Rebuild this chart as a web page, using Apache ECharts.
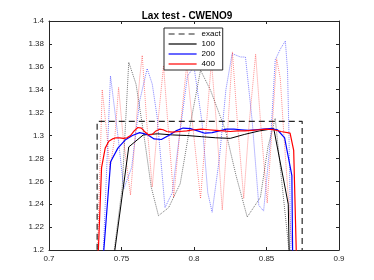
<!DOCTYPE html>
<html><head><meta charset="utf-8">
<script src="https://cdn.jsdelivr.net/npm/echarts@6/dist/echarts.min.js"></script>
<style>html,body{margin:0;padding:0;background:#fff}#c{width:374px;height:280px}</style>
</head><body><div id="c"></div>
<script>
// axis ticks
const xTicks = [0.7, 0.75, 0.8, 0.85, 0.9];
const yTicks = [1.2, 1.22, 1.24, 1.26, 1.28, 1.3, 1.32, 1.34, 1.36, 1.38, 1.4];

// exact solution (density plateau)
const exactX = [0.70, 0.7332, 0.7332, 0.8746, 0.8746, 0.90];
const exactY = [0.50, 0.50, 1.3124, 1.3124, 0.50, 0.50];

// N = 100 (solid black)
const n100X = [0.735, 0.745, 0.755, 0.765, 0.775, 0.785, 0.795, 0.805, 0.815, 0.825, 0.835, 0.845, 0.855, 0.865, 0.875];
const n100Y = [0.60, 1.196, 1.290, 1.3005, 1.3015, 1.3005, 1.300, 1.299, 1.298, 1.2975, 1.301, 1.304, 1.306, 1.240, 0.60];

// N = 200 (solid blue)
const n200X = [0.7325, 0.7375, 0.7425, 0.7475, 0.7525, 0.7575, 0.7625, 0.7675, 0.7725, 0.7775, 0.7825, 0.7875, 0.7925, 0.7975, 0.8025, 0.8075, 0.8125, 0.8175, 0.8225, 0.8275, 0.8325, 0.8375, 0.8425, 0.8475, 0.8525, 0.8575, 0.8625, 0.8675, 0.8725];
const n200Y = [0.60, 1.195, 1.277, 1.289, 1.296, 1.300, 1.3025, 1.301, 1.297, 1.2965, 1.300, 1.304, 1.3065, 1.306, 1.304, 1.302, 1.3025, 1.304, 1.3055, 1.3055, 1.305, 1.3045, 1.305, 1.3055, 1.306, 1.305, 1.298, 1.265, 0.60];

// N = 400 (solid red)
const n400X = [0.73125, 0.73375, 0.73625, 0.73875, 0.74125, 0.74375, 0.74625, 0.74875, 0.75125, 0.75375, 0.75625, 0.75875, 0.76125, 0.76375, 0.76625, 0.76875, 0.77125, 0.77375, 0.77625, 0.77875, 0.78125, 0.785, 0.79, 0.795, 0.80, 0.805, 0.81, 0.815, 0.82, 0.825, 0.83, 0.835, 0.84, 0.845, 0.85, 0.855, 0.86, 0.86625, 0.86875, 0.87125, 0.87375];
const n400Y = [0.60, 1.19, 1.272, 1.289, 1.295, 1.297, 1.298, 1.298, 1.2975, 1.298, 1.300, 1.304, 1.307, 1.3065, 1.303, 1.3005, 1.301, 1.304, 1.3055, 1.305, 1.3035, 1.303, 1.3035, 1.304, 1.305, 1.3055, 1.305, 1.3045, 1.304, 1.3035, 1.304, 1.304, 1.3045, 1.305, 1.3055, 1.305, 1.3035, 1.302, 1.287, 1.163, 0.60];

// oscillating companions (dotted, not in legend)
const d100X = [0.735, 0.744, 0.7505, 0.755, 0.760, 0.7655, 0.7705, 0.7755, 0.7825, 0.7905, 0.7975, 0.8045, 0.8114, 0.8183, 0.8217, 0.8290, 0.8367, 0.8458, 0.851, 0.856, 0.8605, 0.8655, 0.8665];
const d100Y = [0.60, 1.19, 1.255, 1.364, 1.345, 1.300, 1.255, 1.230, 1.237, 1.258, 1.310, 1.357, 1.3395, 1.316, 1.3045, 1.265, 1.2288, 1.246, 1.290, 1.315, 1.260, 1.200, 0.60];

const d200X = [0.733, 0.7375, 0.7424, 0.7475, 0.7516, 0.757, 0.7625, 0.7677, 0.7712, 0.7746, 0.780, 0.785, 0.790, 0.7955, 0.800, 0.8055, 0.8095, 0.8125, 0.8175, 0.822, 0.8263, 0.832, 0.8355, 0.8401, 0.8447, 0.848, 0.853, 0.856, 0.8597, 0.863, 0.8645, 0.8655, 0.8668, 0.867];
const d200Y = [0.60, 1.20, 1.352, 1.300, 1.2536, 1.272, 1.330, 1.3584, 1.345, 1.316, 1.237, 1.250, 1.300, 1.352, 1.360, 1.312, 1.250, 1.233, 1.280, 1.340, 1.3715, 1.3686, 1.3685, 1.313, 1.239, 1.234, 1.300, 1.366, 1.3758, 1.3826, 1.357, 1.300, 1.200, 0.60];

const d400X = [0.7315, 0.7335, 0.7367, 0.7400, 0.7420, 0.7455, 0.7480, 0.7510, 0.7562, 0.7595, 0.7625, 0.7643, 0.7675, 0.7712, 0.7750, 0.7790, 0.7820, 0.7860, 0.7900, 0.7950, 0.7990, 0.8045, 0.8080, 0.8120, 0.8155, 0.8195, 0.8230, 0.8265, 0.8300, 0.8343, 0.8380, 0.8425, 0.8460, 0.8505, 0.8535, 0.8570, 0.8595, 0.8620, 0.8665, 0.8680, 0.8690];
const d400Y = [0.60, 1.20, 1.340, 1.300, 1.270, 1.300, 1.342, 1.300, 1.248, 1.300, 1.350, 1.370, 1.310, 1.255, 1.310, 1.361, 1.310, 1.246, 1.300, 1.362, 1.310, 1.245, 1.300, 1.365, 1.310, 1.235, 1.300, 1.373, 1.310, 1.245, 1.310, 1.371, 1.310, 1.241, 1.300, 1.367, 1.350, 1.300, 1.220, 1.200, 0.60];

const pairs = (xs, ys) => xs.map((x, i) => [x, ys[i]]);

const axisColor = '#262626';
const font = 'Liberation Sans, Arial, sans-serif';
const baseX = {
  type: 'value', min: 0.7, max: 0.9, interval: 0.05,
  axisLine: { show: true, lineStyle: { color: axisColor, width: 1 } },
  axisTick: { show: true, inside: true, length: 3, lineStyle: { color: axisColor } },
  splitLine: { show: false }
};
const baseY = {
  type: 'value', min: 1.2, max: 1.4, interval: 0.02,
  axisLine: { show: true, lineStyle: { color: axisColor, width: 1 } },
  axisTick: { show: true, inside: true, length: 3, lineStyle: { color: axisColor } },
  splitLine: { show: false }
};

const chart = echarts.init(document.getElementById('c'), null, { renderer: 'canvas' });
chart.setOption({
  animation: false,
  backgroundColor: '#fff',
  title: {
    text: 'Lax test - CWENO9', left: 'center', top: 6,
    textStyle: { fontFamily: font, fontSize: 10, fontWeight: 'bold', color: '#000' }
  },
  grid: { left: 49, right: 35, top: 21, bottom: 30 },
  xAxis: [
    Object.assign({}, baseX, { position: 'bottom',
      axisLabel: { show: true, margin: 5, fontFamily: font, fontSize: 8, color: axisColor,
        formatter: v => xTicks.includes(+v.toFixed(2)) ? String(+v.toFixed(2)) : '' } }),
    Object.assign({}, baseX, { position: 'top', axisLabel: { show: false } })
  ],
  yAxis: [
    Object.assign({}, baseY, { position: 'left',
      axisLabel: { show: true, margin: 5, fontFamily: font, fontSize: 8, color: axisColor,
        formatter: v => yTicks.includes(+v.toFixed(2)) ? String(+v.toFixed(2)) : '' } }),
    Object.assign({}, baseY, { position: 'right', axisLabel: { show: false } })
  ],
  legend: {
    data: ['exact', '100', '200', '400'],
    orient: 'vertical', left: 164, top: 28,
    padding: [2, 2, 2, 4], itemGap: 2, itemWidth: 28, itemHeight: 9,
    backgroundColor: '#fff', borderColor: '#262626', borderWidth: 1, borderRadius: 0,
    itemStyle: { opacity: 0 },
    lineStyle: { width: 1.2 },
    textStyle: { fontFamily: font, fontSize: 8, color: '#000' }
  },
  series: [
    { name: 'd100', type: 'line', data: pairs(d100X, d100Y), symbol: 'none', z: 1,
      lineStyle: { color: 'rgba(0,0,0,0.55)', width: 1, type: 'dotted' } },
    { name: 'd200', type: 'line', data: pairs(d200X, d200Y), symbol: 'none', z: 1,
      lineStyle: { color: 'rgba(0,0,255,0.5)', width: 1, type: 'dotted' } },
    { name: 'd400', type: 'line', data: pairs(d400X, d400Y), symbol: 'none', z: 1,
      lineStyle: { color: 'rgba(255,0,0,0.45)', width: 1, type: 'dotted' } },
    { name: '100', type: 'line', data: pairs(n100X, n100Y), symbol: 'none', z: 3,
      itemStyle: { color: '#000' }, lineStyle: { color: '#000', width: 1 } },
    { name: '200', type: 'line', data: pairs(n200X, n200Y), symbol: 'none', z: 3,
      itemStyle: { color: '#0000ff' }, lineStyle: { color: '#0000ff', width: 1.2 } },
    { name: '400', type: 'line', data: pairs(n400X, n400Y), symbol: 'none', z: 3,
      itemStyle: { color: '#ff0000' }, lineStyle: { color: '#ff0000', width: 1.2 } },
    { name: 'exact', type: 'line', data: pairs(exactX, exactY), symbol: 'none', z: 4,
      itemStyle: { color: '#262626' }, lineStyle: { color: '#262626', width: 1.2, type: [6, 4] } }
  ]
});
</script>
</body></html>
